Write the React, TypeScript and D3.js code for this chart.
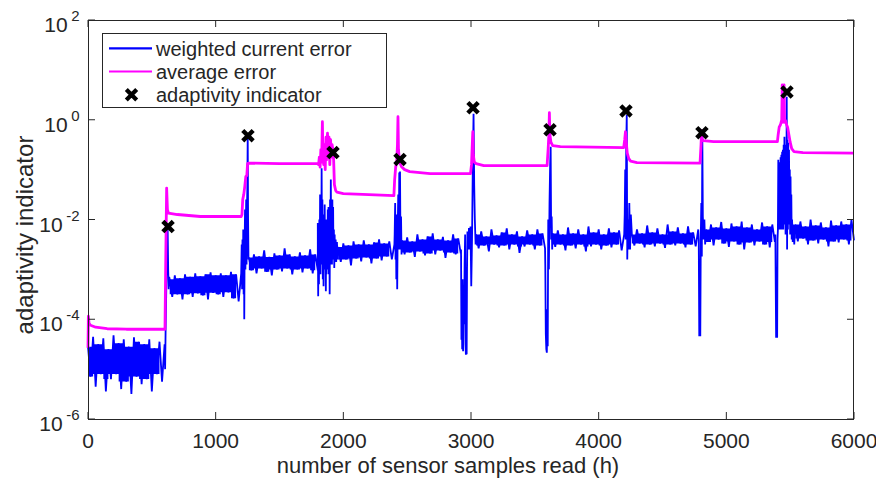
import React from "react";
import * as d3 from "d3";

// axis ticks
const xTickValues = [0, 1000, 2000, 3000, 4000, 5000, 6000];
const yTickExponents = [2, 0, -2, -4, -6];

// weighted current error (log10), quiet stretches read every 20 samples (top / bottom of the noise)
const BLUE_STEP = 20;
const blueRunStarts = [0, 640, 1260, 1960, 2460, 3040, 3640, 4260, 4840, 5540];
const blueRun0 = [-4.55, -5.15, -4.35, -5.35, -4.5, -5.1, -4.38, -5.45, -4.6, -5.2, -4.32, -5.1, -4.48, -5.4, -4.4, -5.25, -4.55, -5.5, -4.36, -5.15, -4.45, -5.3, -4.5, -5.2, -4.4, -5.45, -4.58, -5.1, -4.45, -5.25, -4.5];
const blueRun1 = [-3.2, -3.55, -3.12, -3.5, -3.18, -3.6, -3.1, -3.5, -3.15, -3.55, -3.08, -3.48, -3.14, -3.52, -3.1, -3.6, -3.06, -3.47, -3.12, -3.5, -3.08, -3.55, -3.12, -3.46, -3.05, -3.58, -3.1, -3.64, -3.08];
const blueRun2 = [-2.76, -3.02, -2.7, -3.08, -2.74, -2.98, -2.62, -3.05, -2.75, -3.12, -2.68, -3.0, -2.72, -3.04, -2.58, -2.98, -2.7, -3.1, -2.74, -3.0, -2.66, -3.06, -2.72, -2.98, -2.6, -3.08, -2.7, -3.02];
const blueRun3 = [-2.55, -2.85, -2.48, -2.8, -2.52, -2.92, -2.44, -2.78, -2.5, -2.84, -2.42, -2.76, -2.5, -2.88, -2.46, -2.78, -2.4, -2.82, -2.48, -2.74, -2.44, -2.8, -2.5];
const blueRun4 = [-2.42, -2.7, -2.36, -2.66, -2.44, -2.75, -2.3, -2.64, -2.4, -2.72, -2.34, -2.68, -2.28, -2.7, -2.4, -2.62, -2.35, -2.77, -2.42, -2.66, -2.3, -2.7, -2.38, -2.68];
const blueRun5 = [-2.3, -2.58, -2.24, -2.52, -2.34, -2.64, -2.2, -2.5, -2.32, -2.56, -2.26, -2.52, -2.18, -2.6, -2.3, -2.5, -2.24, -2.67, -2.34, -2.54, -2.22, -2.5, -2.3, -2.6, -2.2, -2.52, -2.28, -2.58];
const blueRun6 = [-2.28, -2.55, -2.22, -2.5, -2.3, -2.62, -2.16, -2.52, -2.28, -2.58, -2.2, -2.5, -2.3, -2.64, -2.14, -2.54, -2.26, -2.5, -2.2, -2.6, -2.3, -2.52, -2.18, -2.56, -2.26, -2.5, -2.22, -2.62, -2.3];
const blueRun7 = [-2.3, -2.52, -2.2, -2.48, -2.28, -2.56, -2.12, -2.5, -2.26, -2.54, -2.18, -2.48, -2.3, -2.57, -2.1, -2.5, -2.24, -2.52, -2.16, -2.48, -2.28, -2.56, -2.14, -2.5, -2.26, -2.54, -2.2];
const blueRun8 = [-2.2, -2.45, -2.1, -2.52, -2.16, -2.4, -2.05, -2.48, -2.18, -2.55, -2.08, -2.44, -2.14, -2.5, -2.04, -2.6, -2.16, -2.46, -2.1, -2.52, -2.2, -2.44, -2.06, -2.5, -2.14, -2.56, -2.1, -2.45];
const blueRun9 = [-2.1, -2.44, -2.04, -2.38, -2.14, -2.5, -2.0, -2.42, -2.12, -2.48, -2.06, -2.4, -2.16, -2.54, -2.02, -2.44, -2.12, -2.46, -2.04, -2.4, -2.1, -2.5, -2.0, -2.42];

// weighted current error around each adaptation: [sample, log10]
const blueBursts = [
  [604, -5.0], [608, -4.2], [612, -3.6], [616, -2.9], [620, -2.5], [624, -2.2], [628, -3.0], [632, -3.4], [636, -3.15],
  [1204, -2.5], [1207, -3.4], [1210, -2.4], [1213, -3.3], [1216, -2.2], [1219, -3.5], [1222, -2.3], [1224, -4.0], [1227, -2.5], [1230, -1.8], [1233, -3.0], [1236, -2.3], [1239, -1.6], [1242, -2.9], [1245, -1.8], [1248, -1.4], [1251, -0.32], [1254, -2.0], [1257, -2.8],
  [1800, -2.07], [1803, -3.54], [1806, -2.2], [1809, -3.3], [1812, -2.0], [1815, -3.0], [1818, -1.5], [1821, -3.1], [1824, -1.9], [1827, -2.9], [1830, -0.97], [1833, -2.8], [1836, -1.6], [1839, -3.2], [1842, -2.0], [1845, -3.34], [1848, -1.9], [1851, -3.0], [1854, -1.7], [1857, -2.9], [1860, -2.1], [1863, -3.44], [1866, -2.0], [1869, -3.1], [1872, -2.2], [1875, -3.0], [1878, -1.8], [1881, -2.9], [1884, -1.75], [1887, -3.1], [1890, -2.1], [1893, -3.5], [1896, -1.6], [1899, -2.9], [1902, -1.2], [1905, -2.7], [1908, -1.7], [1911, -2.9], [1914, -1.6], [1917, -2.6], [1920, -1.75], [1923, -2.8], [1926, -2.2], [1929, -2.97], [1932, -2.3], [1936, -2.8], [1940, -2.4], [1944, -2.85], [1950, -2.45], [1955, -2.8],
  [2402, -2.3], [2406, -1.67], [2409, -2.8], [2412, -2.1], [2415, -3.2], [2418, -1.9], [2422, -3.4], [2426, -2.2], [2430, -1.5], [2434, -2.6], [2438, -1.06], [2442, -2.5], [2444, -1.04], [2448, -2.6], [2452, -1.94], [2456, -2.7],
  [2922, -2.6], [2925, -4.41], [2928, -3.8], [2931, -4.6], [2934, -3.2], [2938, -4.64], [2942, -3.6], [2946, -4.1], [2950, -2.9], [2954, -2.3], [2957, -4.5], [2960, -4.71], [2963, -3.9], [2966, -4.7], [2969, -3.0], [2972, -2.24], [2978, -2.6], [2984, -2.17], [2990, -2.6], [2996, -2.14], [3002, -3.34], [3008, -2.4], [3014, -0.94], [3020, 0.12], [3025, -1.3], [3030, -2.0], [3036, -2.5],
  [3582, -2.94], [3586, -4.3], [3590, -4.6], [3594, -4.67], [3598, -3.8], [3601, -4.54], [3605, -2.0], [3610, -3.0], [3615, -1.67], [3620, -0.9], [3624, -0.54], [3628, -2.4], [3632, -1.94], [3636, -2.6],
  [4204, -1.9], [4208, -1.0], [4212, -2.4], [4216, -0.5], [4220, 0.1], [4224, -2.8], [4228, -2.0], [4234, -2.6], [4240, -1.67], [4246, -2.6], [4252, -1.9],
  [4784, -2.4], [4788, -4.34], [4792, -3.6], [4796, -4.34], [4800, -2.3], [4804, -1.67], [4808, -2.74], [4812, -0.34], [4816, -1.94], [4822, -2.4], [4828, -2.0], [4834, -2.5],
  [5384, -2.3], [5390, -4.37], [5394, -3.8], [5398, -4.37], [5401, -2.4], [5404, -2.2], [5407, -0.8], [5410, -2.2], [5413, -0.85], [5416, -2.1], [5419, -0.9], [5422, -2.2], [5425, -0.75], [5428, -2.1], [5431, -0.7], [5434, -2.2], [5437, -0.64], [5440, -2.0], [5443, -0.6], [5446, -2.2], [5449, -0.5], [5452, -2.1], [5455, -0.34], [5458, -1.9], [5461, -0.5], [5464, -2.3], [5467, -0.7], [5470, -2.0], [5473, 0.46], [5476, -2.6], [5479, -0.4], [5482, -2.2], [5485, -0.46], [5488, -1.9], [5491, -0.6], [5494, -2.1], [5497, -1.0], [5500, -2.3], [5503, -1.14], [5506, -2.2], [5509, -1.5], [5512, -2.4], [5515, -2.0], [5520, -2.45], [5526, -2.1], [5532, -2.5],
];

// average error: [sample, log10]
const averageErrorLog = [
  [0, -4.57], [3, -3.94], [8, -4.08], [20, -4.12], [60, -4.16], [150, -4.19], [300, -4.2], [603, -4.2], [610, -2.6], [616, -1.37], [622, -1.8], [630, -1.87], [700, -1.9], [880, -1.94], [1200, -1.94],
  [1206, -1.9], [1212, -1.6], [1220, -1.5], [1228, -1.34], [1236, -1.14], [1244, -1.12], [1250, -0.88], [1260, -0.87], [1500, -0.88], [1800, -0.88],
  [1806, -0.9], [1812, -0.75], [1818, -0.95], [1824, -0.6], [1830, -0.85], [1836, -0.04], [1840, -0.7], [1846, -0.9], [1852, -0.5], [1858, -1.0], [1864, -0.35], [1870, -0.8], [1876, -0.27], [1882, -0.7], [1888, -0.35], [1894, -0.9], [1900, -0.4], [1906, -0.75], [1912, -0.5], [1918, -0.6], [1924, -0.8], [1930, -1.3], [1940, -1.42], [1950, -1.45], [2000, -1.48], [2200, -1.5], [2396, -1.52],
  [2402, -1.2], [2410, -0.95], [2418, -0.85], [2424, -0.5], [2428, 0.06], [2432, -0.6], [2440, -0.85], [2456, -0.94], [2480, -1.0], [2520, -1.04], [2680, -1.08], [2996, -1.08],
  [3004, -0.9], [3010, -0.5], [3014, -0.24], [3018, -0.7], [3026, -0.85], [3040, -0.88], [3100, -0.92], [3596, -0.92],
  [3604, -0.6], [3610, -0.3], [3614, 0.14], [3618, -0.3], [3626, -0.45], [3640, -0.52], [3700, -0.54], [4196, -0.56],
  [4204, -0.4], [4210, -0.24], [4216, -0.45], [4224, -0.67], [4236, -0.78], [4250, -0.83], [4300, -0.86], [4794, -0.87],
  [4802, -0.5], [4806, -0.22], [4810, -0.38], [4820, -0.42], [4900, -0.44], [5400, -0.44],
  [5406, -0.3], [5414, -0.15], [5424, -0.1], [5434, 0.0], [5438, 0.7], [5442, -0.05], [5448, 0.0], [5452, 0.7], [5456, -0.05], [5464, -0.02], [5472, -0.1], [5480, -0.15], [5490, -0.3], [5500, -0.45], [5512, -0.58], [5530, -0.64], [5600, -0.66], [6000, -0.67],
];

// adaptivity indicator
const indicatorSamples = [627, 1253, 1919, 2444, 3016, 3619, 4214, 4809, 5475];
const indicatorValues = [0.0072, 0.48, 0.22, 0.16, 1.74, 0.63, 1.5, 0.55, 3.6];

const legendLabels = ["weighted current error", "average error", "adaptivity indicator"];

const FONT = '"Liberation Sans", Arial, Helvetica, sans-serif';
const INK = "#262626";
const BLUE = "#0000ff";
const MAGENTA = "#ff00ff";
const X_MARK = "M-5.2,-5.2L5.2,5.2M-5.2,5.2L5.2,-5.2";

export default function App() {
  const left = 88, right = 854, top = 20, bottom = 419;
  const x = d3.scaleLinear().domain([0, 6000]).range([left, right]);
  const y = d3.scaleLog().domain([1e-6, 1e2]).range([bottom, top]);
  const yl = (v: number) => y(Math.pow(10, v));

  const blueRuns = [blueRun0, blueRun1, blueRun2, blueRun3, blueRun4, blueRun5, blueRun6, blueRun7, blueRun8, blueRun9];
  const bluePoints = blueRuns
    .flatMap((run, i) => run.map((v, j) => [blueRunStarts[i] + j * BLUE_STEP, v]))
    .concat(blueBursts)
    .sort((a, b) => a[0] - b[0]);

  // dense core of each noisy stretch: the lower of neighbouring tops and the higher of neighbouring bottoms
  const blueBands = blueRuns.map((run, i) => {
    const cells: number[][] = [];
    for (let j = 0; j + 3 < run.length; j += 2) {
      const hi = Math.min(run[j], run[j + 2]);
      const lo = Math.max(run[j + 1], run[j + 3]);
      cells.push([blueRunStarts[i] + j * BLUE_STEP, hi, lo]);
      cells.push([blueRunStarts[i] + (j + 2) * BLUE_STEP, hi, lo]);
    }
    return cells;
  });

  const logLine = d3.line<number[]>()
    .x(d => x(d[0]))
    .y(d => yl(d[1]));

  const band = d3.area<number[]>()
    .x(d => x(d[0]))
    .y0(d => yl(d[2]))
    .y1(d => yl(d[1]));

  const tick = 7;

  return (
    <svg width={876} height={478} style={{ position: "absolute", left: 0, top: 0, background: "#fff" }} fontFamily={FONT}>
      <rect x={0} y={0} width={876} height={478} fill="#fff" />

      {/* series */}
      {blueBands.map((b, i) => (
        <path key={i} d={band(b) || ""} fill={BLUE} stroke="none" />
      ))}
      <path d={logLine(bluePoints) || ""} fill="none" stroke={BLUE} strokeWidth={1.8} strokeLinejoin="miter" strokeMiterlimit={3} />
      <path d={logLine(averageErrorLog) || ""} fill="none" stroke={MAGENTA} strokeWidth={2.8} strokeLinejoin="round" />
      {indicatorSamples.map((h, i) => (
        <path key={h} d={X_MARK} transform={`translate(${x(h)},${y(indicatorValues[i])})`} stroke="#000" strokeWidth={4.4} fill="none" />
      ))}

      {/* axes box */}
      <rect x={left + 0.5} y={top + 0.5} width={right - left - 1} height={bottom - top} fill="none" stroke={INK} strokeWidth={1} />
      {xTickValues.map(v => (
        <g key={v}>
          <line x1={x(v)} x2={x(v)} y1={bottom} y2={bottom - tick} stroke={INK} />
          <line x1={x(v)} x2={x(v)} y1={top} y2={top + tick} stroke={INK} />
          <text x={x(v)} y={447.5} textAnchor="middle" fontSize={21} fill={INK}>{v}</text>
        </g>
      ))}
      {yTickExponents.map(e => {
        const yy = y(Math.pow(10, e));
        return (
          <g key={e}>
            <line x1={left} x2={left + tick} y1={yy} y2={yy} stroke={INK} />
            <line x1={right} x2={right - tick} y1={yy} y2={yy} stroke={INK} />
            <text x={79.5} y={yy + 12} textAnchor="end" fontSize={21} fill={INK}>
              10<tspan dx={3.5} dy={-11} fontSize={15}>{e}</tspan>
            </text>
          </g>
        );
      })}

      {/* axis titles */}
      <text x={448} y={473} textAnchor="middle" fontSize={22} fill={INK}>number of sensor samples read (h)</text>
      <text transform="translate(33,235) rotate(-90)" textAnchor="middle" fontSize={24} fill={INK}>adaptivity indicator</text>

      {/* legend */}
      <rect x={102.5} y={33.5} width={284} height={74} fill="#fff" stroke={INK} strokeWidth={1} />
      {legendLabels.map((label, i) => {
        const ly = 48.3 + i * 23.2;
        return (
          <g key={label}>
            {i < 2 ? (
              <line x1={109} x2={152} y1={ly} y2={ly} stroke={i === 0 ? BLUE : MAGENTA} strokeWidth={2.2} />
            ) : (
              <path d={X_MARK} transform={`translate(131.5,${ly})`} stroke="#000" strokeWidth={4.2} fill="none" />
            )}
            <text x={156} y={ly + 7.2} fontSize={20} fill={INK}>{label}</text>
          </g>
        );
      })}
    </svg>
  );
}
